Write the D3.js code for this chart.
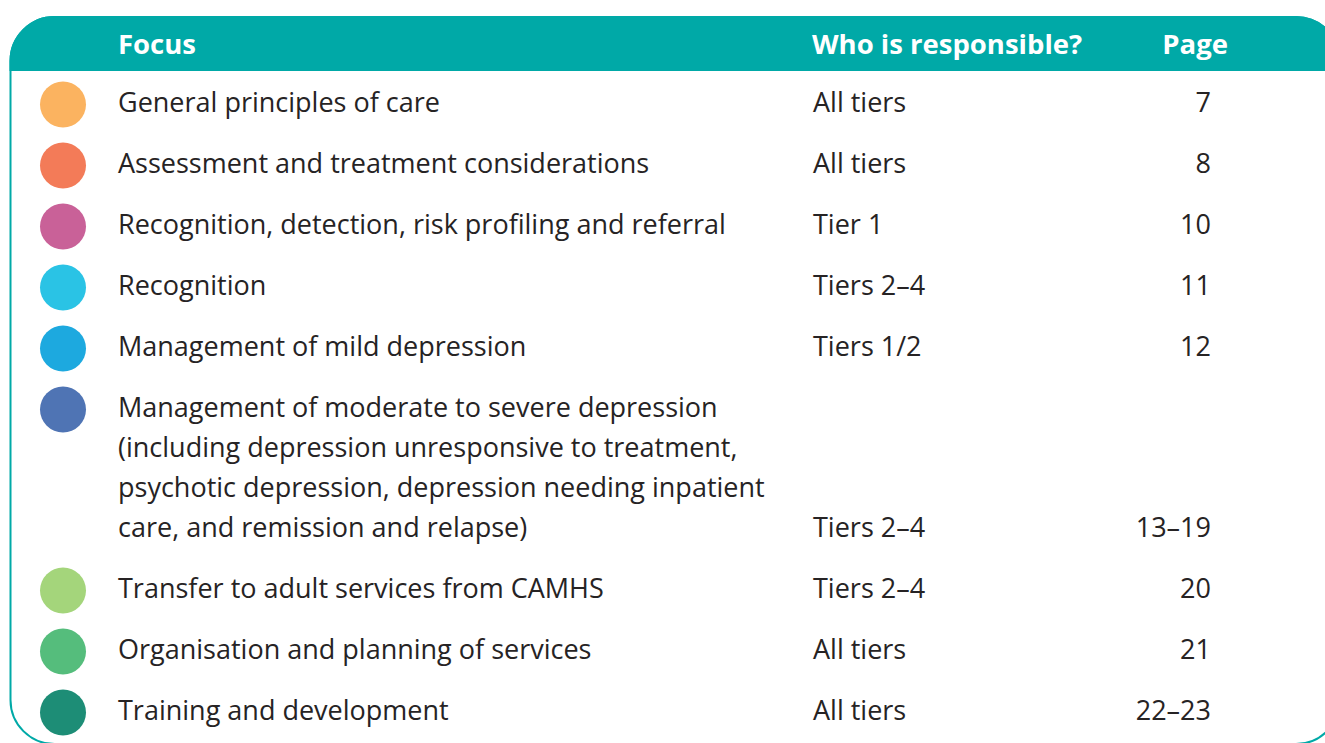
<!DOCTYPE html>
<html><head><meta charset="utf-8">
<script src="https://cdn.jsdelivr.net/npm/d3@7"></script>
<style>body{margin:0;background:#fff;overflow:hidden}svg{display:block}</style>
</head><body>
<script>
const headers = ["Focus", "Who is responsible?", "Page"];
const focus = [
  ["General principles of care"],
  ["Assessment and treatment considerations"],
  ["Recognition, detection, risk profiling and referral"],
  ["Recognition"],
  ["Management of mild depression"],
  ["Management of moderate to severe depression", "(including depression unresponsive to treatment,", "psychotic depression, depression needing inpatient", "care, and remission and relapse)"],
  ["Transfer to adult services from CAMHS"],
  ["Organisation and planning of services"],
  ["Training and development"]
];
const responsible = ["All tiers", "All tiers", "Tier 1", "Tiers 2–4", "Tiers 1/2", "Tiers 2–4", "Tiers 2–4", "All tiers", "All tiers"];
const pages = ["7", "8", "10", "11", "12", "13–19", "20", "21", "22–23"];
const colors = ["#FBB360", "#F37B58", "#C96198", "#2AC3E5", "#1DA9DF", "#4F74B4", "#A4D57B", "#55BD7C", "#1D8D76"];

const W = 1325, H = 743;
const teal = "#00A9A7";
const svg = d3.select("body").append("svg").attr("width", W).attr("height", H);

const x0 = 10.5, y0 = 17, x1 = 1340, y1 = 744, r = 44, hb = 70;
// frame
const p = d3.path();
p.moveTo(x0, y0 + r);
p.arcTo(x0, y0, x0 + r, y0, r);
p.lineTo(x1 - r, y0);
p.arcTo(x1, y0, x1, y0 + r, r);
p.lineTo(x1, y1 - r);
p.arcTo(x1, y1, x1 - r, y1, r);
p.lineTo(x0 + r, y1);
p.arcTo(x0, y1, x0, y1 - r, r);
p.closePath();
svg.append("path").attr("d", p.toString()).attr("fill", "#fff").attr("stroke", teal).attr("stroke-width", 2);

const hp = d3.path();
hp.moveTo(x0, hb);
hp.lineTo(x0, y0 + r);
hp.arcTo(x0, y0, x0 + r, y0, r);
hp.lineTo(x1 - r, y0);
hp.arcTo(x1, y0, x1, y0 + r, r);
hp.lineTo(x1, hb);
hp.closePath();
svg.append("path").attr("d", hp.toString()).attr("fill", teal).attr("stroke", teal).attr("stroke-width", 2);

const font = "'Open Sans', 'Noto Sans', sans-serif";
const colX = [118, 812, 1228];
svg.selectAll("text.h").data(headers).join("text").attr("class", "h")
  .attr("x", (d, i) => colX[i]).attr("y", 54)
  .attr("text-anchor", (d, i) => i === 2 ? "end" : "start")
  .attr("font-family", font).attr("font-weight", 700).attr("font-size", 27.5)
  .attr("fill", "#fff").text(d => d);

// baseline positions: rows step 61, extra lines step 40
const rowBase = [];
let b = 112;
focus.forEach((f, i) => { rowBase.push(b); b += 61 + (f.length - 1) * 40; });
const y = d3.scaleOrdinal().domain(d3.range(focus.length)).range(rowBase);

const g = svg.append("g").attr("font-family", font).attr("font-size", 27).attr("fill", "#262324");
const rows = g.selectAll("g.row").data(focus).join("g").attr("class", "row");
rows.append("circle").attr("cx", 63).attr("cy", (d, i) => y(i) - 7.5).attr("r", 23).attr("fill", (d, i) => colors[i]);
rows.append("text").attr("x", 118).attr("y", (d, i) => y(i))
  .selectAll("tspan").data(d => d).join("tspan").attr("x", 118).attr("dy", (d, j) => j ? 40 : 0).text(d => d);
rows.append("text").attr("x", 813).attr("y", (d, i) => y(i) + (d.length - 1) * 40).text((d, i) => responsible[i]);
rows.append("text").attr("x", 1211).attr("text-anchor", "end").attr("y", (d, i) => y(i) + (d.length - 1) * 40).text((d, i) => pages[i]);
</script>
</body></html>
